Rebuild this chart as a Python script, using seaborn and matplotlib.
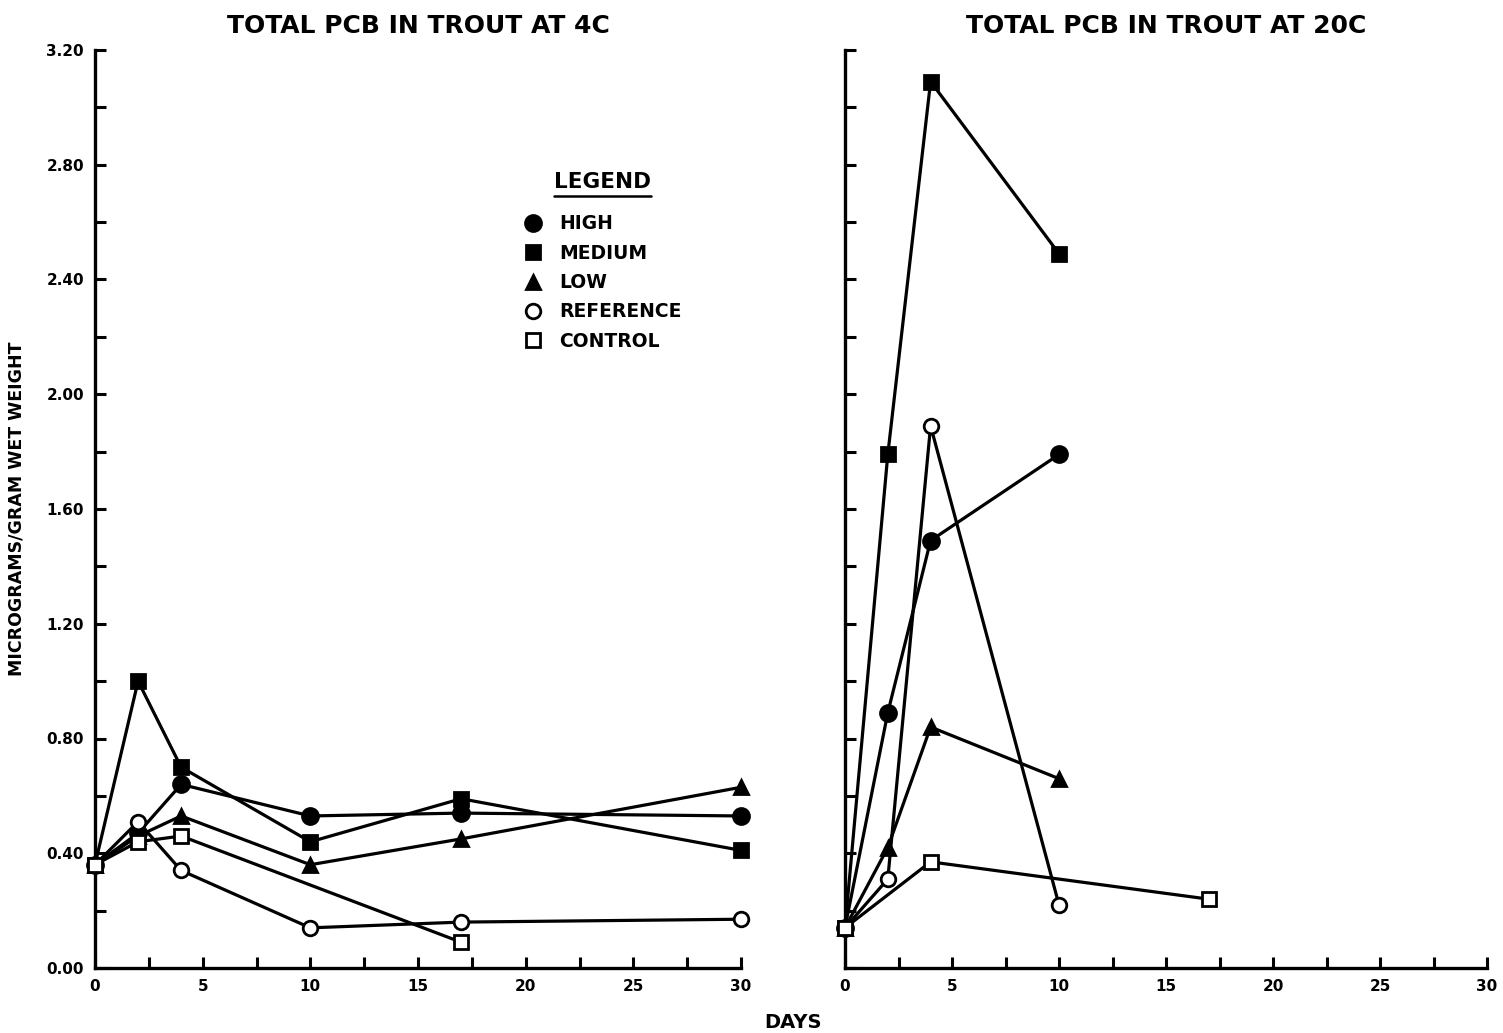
import matplotlib
matplotlib.use("Agg")
import matplotlib.pyplot as plt
from matplotlib.lines import Line2D
from matplotlib.ticker import MultipleLocator, FormatStrFormatter
import seaborn as sns
import pandas as pd

sns.set_theme(style="white")
plt.rcParams["font.family"] = ["DejaVu Sans"]
plt.rcParams["font.weight"] = "bold"
plt.rcParams["text.color"] = "black"
plt.rcParams["axes.labelcolor"] = "black"

# Total PCB (micrograms/gram wet weight) in trout held at 4C
days_4c_high = [0, 2, 4, 10, 17, 30]
pcb_4c_high = [0.36, 0.47, 0.64, 0.53, 0.54, 0.53]
days_4c_medium = [0, 2, 4, 10, 17, 30]
pcb_4c_medium = [0.36, 1.00, 0.70, 0.44, 0.59, 0.41]
days_4c_low = [0, 2, 4, 10, 17, 30]
pcb_4c_low = [0.36, 0.46, 0.53, 0.36, 0.45, 0.63]
days_4c_reference = [0, 2, 4, 10, 17, 30]
pcb_4c_reference = [0.36, 0.51, 0.34, 0.14, 0.16, 0.17]
days_4c_control = [0, 2, 4, 17]
pcb_4c_control = [0.36, 0.44, 0.46, 0.09]

# Total PCB in trout held at 20C
days_20c_high = [0, 2, 4, 10]
pcb_20c_high = [0.14, 0.89, 1.49, 1.79]
days_20c_medium = [0, 2, 4, 10]
pcb_20c_medium = [0.14, 1.79, 3.09, 2.49]
days_20c_low = [0, 2, 4, 10]
pcb_20c_low = [0.14, 0.42, 0.84, 0.66]
days_20c_reference = [0, 2, 4, 10]
pcb_20c_reference = [0.14, 0.31, 1.89, 0.22]
days_20c_control = [0, 4, 17]
pcb_20c_control = [0.14, 0.37, 0.24]

groups = ["HIGH", "MEDIUM", "LOW", "REFERENCE", "CONTROL"]

marker_style = {
    "HIGH": dict(marker="o", markerfacecolor="black", markersize=11.5),
    "MEDIUM": dict(marker="s", markerfacecolor="black", markersize=10.5),
    "LOW": dict(marker="^", markerfacecolor="black", markersize=10.5),
    "REFERENCE": dict(marker="o", markerfacecolor="white", markersize=10.5),
    "CONTROL": dict(marker="s", markerfacecolor="white", markersize=10),
}

panels = [
    ("TOTAL PCB IN TROUT AT 4C", {
        "HIGH": (days_4c_high, pcb_4c_high),
        "MEDIUM": (days_4c_medium, pcb_4c_medium),
        "LOW": (days_4c_low, pcb_4c_low),
        "REFERENCE": (days_4c_reference, pcb_4c_reference),
        "CONTROL": (days_4c_control, pcb_4c_control),
    }),
    ("TOTAL PCB IN TROUT AT 20C", {
        "HIGH": (days_20c_high, pcb_20c_high),
        "MEDIUM": (days_20c_medium, pcb_20c_medium),
        "LOW": (days_20c_low, pcb_20c_low),
        "REFERENCE": (days_20c_reference, pcb_20c_reference),
        "CONTROL": (days_20c_control, pcb_20c_control),
    }),
]

W, H = 1503, 1033
fig = plt.figure(figsize=(W / 100, H / 100), dpi=100)
ax_left = fig.add_axes([95 / W, 1 - 968 / H, 646 / W, 918 / H])
ax_right = fig.add_axes([845 / W, 1 - 968 / H, 642 / W, 918 / H])

for ax, (title, series) in zip([ax_left, ax_right], panels):
    for name in groups:
        xs, ys = series[name]
        df = pd.DataFrame({"day": xs, "pcb": ys})
        sns.lineplot(data=df, x="day", y="pcb", ax=ax, color="black",
                     linewidth=2.3, markeredgecolor="black",
                     markeredgewidth=2.0, clip_on=False, zorder=3,
                     **marker_style[name])
    ax.set_xlim(0, 30)
    ax.set_ylim(0, 3.2)
    ax.set_xlabel("")
    ax.set_ylabel("")
    ax.set_title(title, fontsize=18, fontweight="bold", pad=12,
                 color="black")
    ax.xaxis.set_major_locator(MultipleLocator(5))
    ax.xaxis.set_minor_locator(MultipleLocator(2.5))
    ax.yaxis.set_major_locator(MultipleLocator(0.4))
    ax.yaxis.set_minor_locator(MultipleLocator(0.2))
    ax.yaxis.set_major_formatter(FormatStrFormatter("%.2f"))
    for side in ["top", "right"]:
        ax.spines[side].set_visible(False)
    for side in ["left", "bottom"]:
        ax.spines[side].set_linewidth(2.4)
        ax.spines[side].set_color("black")
    ax.tick_params(which="both", direction="in", length=8, width=2.2,
                   color="black", left=True, bottom=True)
    ax.tick_params(which="major", labelsize=11, pad=8, labelcolor="black")
    for lbl in ax.get_xticklabels() + ax.get_yticklabels():
        lbl.set_fontweight("bold")
    ax.set_facecolor("white")

ax_right.tick_params(axis="y", labelleft=False)

ax_left.set_ylabel("MICROGRAMS/GRAM WET WEIGHT", fontsize=12.5,
                   fontweight="bold", labelpad=15, color="black")
fig.text(793 / W, 1 - 1022 / H, "DAYS", ha="center", va="center",
         fontsize=14, fontweight="bold", color="black")

handles = [Line2D([], [], linestyle="none", markeredgecolor="black",
                  markeredgewidth=2.0, color="black", **marker_style[g])
           for g in groups]
leg = ax_left.legend(handles, groups, loc="upper left",
                     bbox_to_anchor=(0.652, 0.875), frameon=False,
                     title="LEGEND", fontsize=13.5,
                     handlelength=1.0, handletextpad=0.9, labelspacing=0.55,
                     borderaxespad=0)
leg.get_title().set_fontweight("bold")
leg.get_title().set_fontsize(15.5)
leg.get_title().set_color("black")
leg._legend_box.sep = 16
for t in leg.get_texts():
    t.set_fontweight("bold")
    t.set_color("black")

# underline the legend heading
fig.canvas.draw()
bb = leg.get_title().get_window_extent().transformed(fig.transFigure.inverted())
fig.add_artist(Line2D([bb.x0, bb.x1], [bb.y0 - 0.004, bb.y0 - 0.004],
                      transform=fig.transFigure, color="black", linewidth=1.8))

fig.savefig("out.png", dpi=100, facecolor="white")
